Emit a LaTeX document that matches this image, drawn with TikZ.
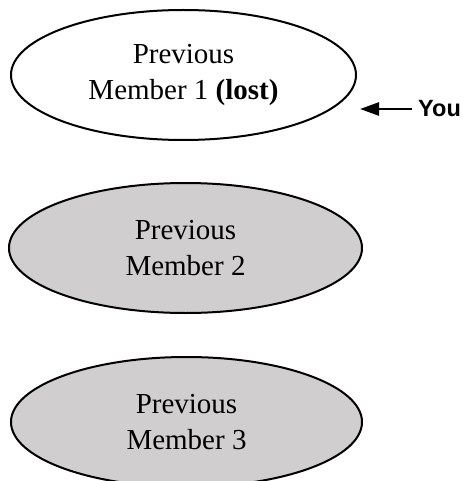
\documentclass[tikz,border=0pt]{standalone}
\usepackage{fontspec}
\setmainfont{Liberation Serif}
\newfontfamily\arialfont{Liberation Sans}
\usetikzlibrary{shapes.geometric,arrows.meta}
\definecolor{memgray}{RGB}{208,206,207}
\begin{document}
\begin{tikzpicture}[x=1pt,y=1pt,
  member/.style={ellipse, draw=black, line width=2pt, inner sep=0pt,
    align=center, font=\fontsize{29}{36}\selectfont},
  arr/.style={line width=2.6pt, -{Triangle[length=19pt,width=13pt]}}]
\useasboundingbox (0,0) rectangle (468,-481);
\node[member, fill=white, minimum width=345pt, minimum height=130pt] (m1) at (183.5,-75)
  {Previous\\Member 1 \textbf{(lost)}};
\node[member, fill=memgray, minimum width=353pt, minimum height=130pt] (m2) at (185.5,-248)
  {Previous\\Member 2};
\node[member, fill=memgray, minimum width=351pt, minimum height=130pt] (m3) at (186.5,-422)
  {Previous\\Member 3};
\node[anchor=west, inner sep=0pt, font=\arialfont\bfseries\fontsize{23.5}{28}\selectfont] (you) at (418,-109) {You};
\coordinate (tip) at (360,-109);
\draw[arr, shorten <=6pt] (you.west) -- (tip);
\end{tikzpicture}
\end{document}
